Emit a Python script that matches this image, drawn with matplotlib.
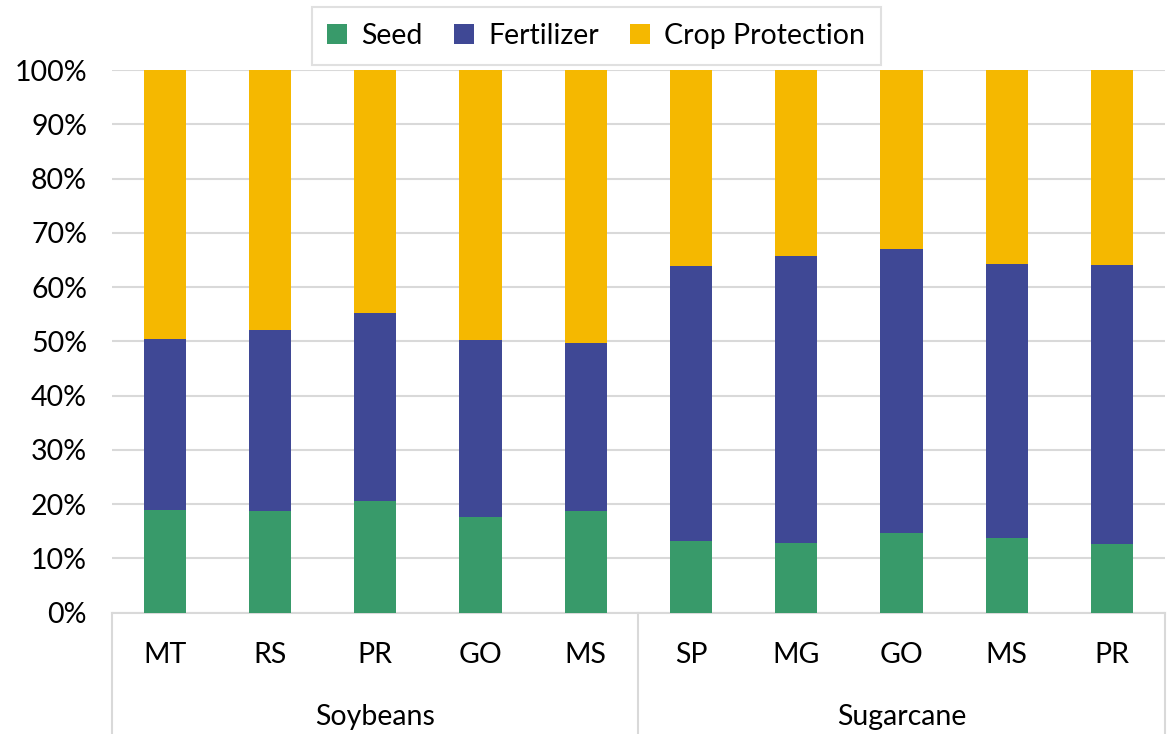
import numpy as np
import matplotlib.pyplot as plt
from matplotlib.lines import Line2D

plt.rcParams['font.family'] = ['Lato', 'DejaVu Sans']

# Data (shares, %)
states = ["MT", "RS", "PR", "GO", "MS", "SP", "MG", "GO", "MS", "PR"]
groups = ["Soybeans", "Sugarcane"]
group_sizes = [5, 5]
seed = [18.9, 18.8, 20.5, 17.7, 18.7, 13.1, 12.9, 14.6, 13.7, 12.7]
seed_plus_fert = [50.5, 52.1, 55.3, 50.2, 49.6, 63.9, 65.7, 67.0, 64.2, 64.0]
fertilizer = [t - s for t, s in zip(seed_plus_fert, seed)]
crop_protection = [100 - t for t in seed_plus_fert]

colors = {"Seed": "#389A6A", "Fertilizer": "#3F4895", "Crop Protection": "#F5B800"}
grid_color = "#D9D9D9"
fs = 20.5

fig = plt.figure(figsize=(11.67, 7.34), dpi=100)
ax = fig.add_axes([0.096, 0.1655, 0.902, 0.739])

x = np.arange(len(states))
width = 0.4
bottom = np.zeros(len(states))
for name, vals in [("Seed", seed), ("Fertilizer", fertilizer),
                   ("Crop Protection", crop_protection)]:
    ax.bar(x, vals, width, bottom=bottom, color=colors[name], label=name,
           linewidth=0, zorder=3)
    bottom += np.array(vals)

ax.set_xlim(-0.5, len(states) - 0.5)
ax.set_ylim(0, 100)
ax.set_yticks(np.arange(0, 101, 10))
ax.set_yticklabels([f"{v}%" for v in range(0, 101, 10)])
ax.yaxis.grid(True, color=grid_color, linewidth=1.5, zorder=0)
ax.tick_params(axis="y", length=0, labelsize=fs, pad=18, labelcolor="#000000")
ax.set_xticks([])
for side in ["top", "right", "left"]:
    ax.spines[side].set_visible(False)
ax.spines["bottom"].set_color(grid_color)
ax.spines["bottom"].set_linewidth(1.5)

# multi-level category axis
trans = ax.get_xaxis_transform()
for i, s in enumerate(states):
    ax.text(i, -0.078, s, transform=trans, ha="center", va="center", fontsize=fs)
start = 0
edges = [-0.5]
for g, n in zip(groups, group_sizes):
    mid = start + (n - 1) / 2
    ax.text(mid, -0.193, g, transform=trans, ha="center", va="center", fontsize=fs)
    start += n
    edges.append(start - 0.5)
for e in edges:
    ax.add_line(Line2D([e, e], [0, -0.3], transform=trans, color=grid_color,
                       linewidth=1.5, clip_on=False))

leg = fig.legend(loc="center", bbox_to_anchor=(0.511, 0.951), ncol=3,
                 fontsize=fs, frameon=True, fancybox=False, edgecolor=grid_color,
                 handlelength=0.7, handleheight=0.7, handletextpad=0.5,
                 columnspacing=1.1, borderpad=0.55)
leg.get_frame().set_linewidth(1.5)

fig.savefig("out.png", dpi=100)
